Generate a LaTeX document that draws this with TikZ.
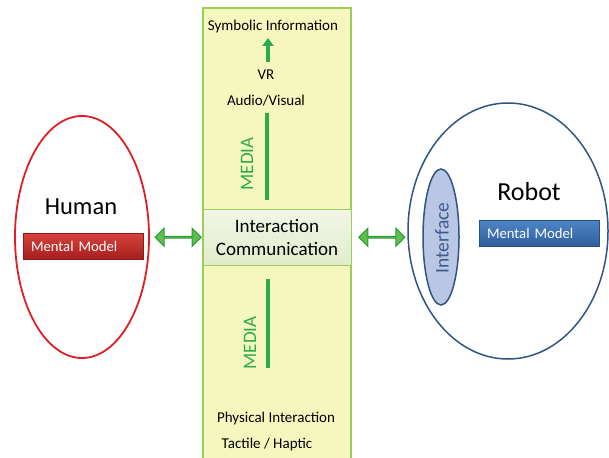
\documentclass[tikz,border=0pt]{standalone}
\usepackage{fontspec}
\setmainfont{Carlito}
\usetikzlibrary{shapes.geometric,shapes.arrows,calc,arrows.meta}
\definecolor{colyellow}{HTML}{F6F7BE}
\definecolor{colgreen}{HTML}{9ACD5A}
\definecolor{boxgreen}{HTML}{E2ECCB}
\definecolor{boxgreentop}{HTML}{F1F6E6}
\definecolor{bargreen}{HTML}{2EAA4E}
\definecolor{arrfill}{HTML}{5CC04A}
\definecolor{arrdraw}{HTML}{2E9A3A}
\definecolor{humanred}{HTML}{E01E26}
\definecolor{robotblue}{HTML}{2F5585}
\definecolor{ifill}{HTML}{B9C6E4}
\definecolor{itext}{HTML}{3C5A90}
\definecolor{redtop}{HTML}{D8443C}
\definecolor{redbot}{HTML}{A51E1E}
\definecolor{reddraw}{HTML}{8C1A1A}
\definecolor{bluetop}{HTML}{4F86C6}
\definecolor{bluebot}{HTML}{2D5E9E}
\definecolor{bluedraw}{HTML}{2A4E80}
\tikzset{
  lbl/.style={inner sep=0pt, font=\fontsize{15}{17}\selectfont},
  media/.style={inner sep=0pt, rotate=90, text=bargreen, font=\fontsize{19}{21}\selectfont},
  bar/.style={draw=bargreen, line width=4.5pt},
  mmred/.style={minimum width=120pt, minimum height=26pt, inner sep=0pt, text=white, font=\fontsize{14.7}{16}\selectfont, top color=redtop, bottom color=redbot, draw=reddraw, line width=0.4pt},
  mmblue/.style={minimum width=120pt, minimum height=26pt, inner sep=0pt, text=white, font=\fontsize{14.7}{16}\selectfont, top color=bluetop, bottom color=bluebot, draw=bluedraw, line width=0.4pt},
  dbl/.style={double arrow, draw=arrdraw, fill=arrfill, line width=1pt, minimum height=46pt, minimum width=18pt, double arrow head extend=5pt, inner sep=0pt},
}
\begin{document}
\begin{tikzpicture}[x=1pt,y=-1pt]
\useasboundingbox (0,0) rectangle (609,457);
% central column
\node[draw=colgreen, line width=1.8pt, fill=colyellow, minimum width=148pt, minimum height=470pt, anchor=north, inner sep=0pt] (col) at (277,7.5) {};
\node[draw=colgreen, line width=1pt, top color=boxgreentop, bottom color=boxgreen, minimum width=148pt, minimum height=56pt, inner sep=0pt, align=center, font=\fontsize{19}{23}\selectfont] (inter) at (277,237.5) {Interaction\\Communication};
% top media
\node[lbl] (sym) at (273,27) {Symbolic Information};
\node[lbl] (vr) at (266,75) {VR};
\node[lbl] (av) at (266,101) {Audio/Visual};
\coordinate (uparrowbot) at (268,62);
\coordinate (uparrowtop) at (268,38);
\draw[bar, -{Triangle[length=8pt,width=11pt]}] (uparrowbot) -- (uparrowtop);
\coordinate (tb1) at (267,113);
\coordinate (tb2) at (267,200);
\draw[bar] (tb1) -- (tb2);
\node[media] (m1) at (247,164) {MEDIA};
% bottom media
\coordinate (bb1) at (268,279);
\coordinate (bb2) at (268,368);
\draw[bar] (bb1) -- (bb2);
\node[media] (m2) at (250,343) {MEDIA};
\node[lbl] (phys) at (276,418) {Physical Interaction};
\node[lbl] (tact) at (267,444) {Tactile / Haptic};
% human
\node[ellipse, draw=humanred, line width=1.8pt, minimum width=134pt, minimum height=242pt, inner sep=0pt] (human) at (82,237) {};
\node[inner sep=0pt, font=\fontsize{24.5}{28}\selectfont] (htxt) at (81,207) {Human};
\node[mmred, text width=104pt] (hmm) at (83,246) {Mental Model};
% robot
\node[ellipse, draw=robotblue, line width=1.5pt, minimum width=200pt, minimum height=256pt, inner sep=0pt] (robot) at (508,231) {};
\node[ellipse, draw=robotblue, line width=1.5pt, fill=ifill, minimum width=36pt, minimum height=136pt, inner sep=0pt] (iface) at (441,237) {};
\node[inner sep=0pt, rotate=90, text=itext, font=\fontsize{19.5}{22}\selectfont] (itxt) at (442,238) {Interface};
\node[inner sep=0pt, font=\fontsize{26}{30}\selectfont] (rtxt) at (529,192) {Robot};
\node[mmblue, text width=104pt] (rmm) at (539,233) {Mental Model};
% double arrows
\node[dbl] (a1) at ($(human.east)!0.5!(inter.west)+(2,0)$) {};
\node[dbl] (a2) at ($(inter.east)!0.5!(iface.west)+(-5,0)$) {};
\end{tikzpicture}
\end{document}
